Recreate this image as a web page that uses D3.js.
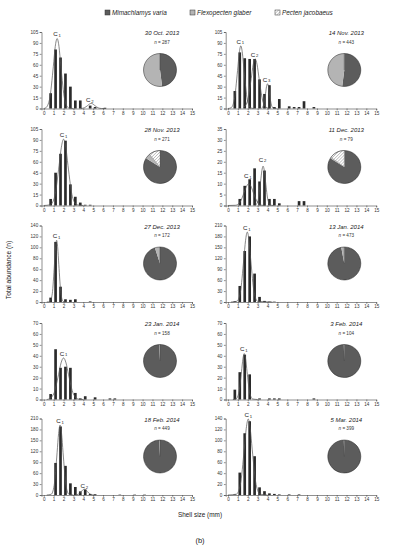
<!DOCTYPE html>
<html>
<head>
<meta charset="utf-8">
<script src="https://cdn.jsdelivr.net/npm/d3@7"></script>
<style>
  body { margin: 0; background: #fff; }
  svg { font-family: "Liberation Sans", Arial, sans-serif; }
</style>
</head>
<body>
<div id="chart"></div>
<script>
// size classes (lower edge of each 0.5 mm bin)
var sizeBins = [0, 0.5, 1, 1.5, 2, 2.5, 3, 3.5, 4, 4.5, 5, 5.5, 6, 6.5, 7, 7.5, 8, 8.5, 9, 9.5, 10];

var sampleDates = ["30 Oct. 2013", "14 Nov. 2013", "28 Nov. 2013", "11 Dec. 2013", "27 Dec. 2013",
                   "13 Jan. 2014", "23 Jan. 2014", "3 Feb. 2014", "18 Feb. 2014", "5 Mar. 2014"];
var sampleN = [287, 443, 271, 79, 172, 473, 158, 104, 449, 399];
var yMax = [105, 105, 105, 35, 140, 210, 70, 70, 210, 140];
var yStep = [15, 15, 15, 5, 20, 30, 10, 10, 30, 20];

// Mimachlamys varia abundance per size bin
var abundance = [
  [0, 21, 81, 70, 48, 30, 11, 11, 0, 4, 2, 0, 1, 0, 0, 0, 0, 0, 0, 0, 0],
  [0, 24, 77, 69, 68, 68, 40, 20, 32, 2, 13, 0, 3, 2, 2, 10, 0, 2, 0, 0, 0],
  [0, 9, 45, 71, 89, 29, 12, 4, 1, 1, 0, 0, 0, 0, 0, 0, 0, 0, 0, 0, 0],
  [0, 0, 3, 9, 12, 17, 11, 16, 3, 3, 1, 0, 0, 0, 2, 2, 0, 0, 0, 0, 0],
  [0, 8, 110, 28, 5, 4, 5, 0, 0, 1, 0, 0, 0, 0, 0, 0, 0, 0, 0, 0, 0],
  [0, 2, 44, 140, 180, 78, 14, 3, 1, 1, 0, 0, 0, 0, 0, 0, 0, 0, 0, 0, 0],
  [0, 5, 46, 29, 30, 29, 6, 1, 3, 0, 2, 0, 0, 1, 1, 0, 0, 0, 0, 0, 0],
  [0, 9, 25, 41, 23, 0, 1, 0, 1, 1, 1, 0, 0, 0, 0, 0, 0, 1, 0, 0, 0],
  [0, 0, 88, 188, 80, 32, 22, 10, 15, 3, 2, 0, 0, 0, 0, 1, 0, 0, 1, 0, 1],
  [0, 1, 41, 113, 135, 71, 14, 7, 3, 2, 1, 0, 1, 0, 1, 0, 0, 0, 0, 0, 0]
];

// cohort curves, points [size, n]
var cohortCurves = [
  [ [[0,0],[0.21,1],[0.59,13],[0.97,58],[1.16,85],[1.35,96],[1.54,85],[1.73,58],[2.11,13],[2.49,1],[3,0]],
    [[3.75,0],[4.1,1],[4.45,4.2],[4.63,6.2],[4.8,7],[4.97,6.2],[5.15,4.2],[5.5,1],[5.85,0],[6.3,0]] ],
  [ [[0,0],[0.31,1],[0.64,12],[0.97,52],[1.14,76],[1.3,86],[1.46,76],[1.63,52],[1.96,12],[2.29,1],[2.6,0]],
    [[1.55,1],[1.95,9],[2.35,41],[2.55,60],[2.75,68],[2.95,60],[3.15,41],[3.55,9],[3.95,1],[4.2,0]],
    [[3.4,0.4],[3.6,4.6],[3.8,20.6],[3.9,30],[4,34],[4.1,30],[4.2,20.6],[4.4,4.6],[4.6,0.4],[4.9,0]] ],
  [ [[0,0],[0.65,1],[1.1,12],[1.55,55],[1.78,80],[2,91],[2.23,80],[2.45,55],[2.9,12],[3.35,1],[4,0]] ],
  [ [[0,0],[0.75,0.1],[1.2,1.4],[1.65,6.1],[1.88,8.8],[2.1,10],[2.33,8.8],[2.55,6.1],[3,1.4],[3.45,0.1],[3.8,0]],
    [[2.8,0.2],[3.05,2.4],[3.3,10.9],[3.43,15.9],[3.55,18],[3.68,15.9],[3.8,10.9],[4.05,2.4],[4.3,0.2],[4.6,0]] ],
  [ [[0.3,0],[0.64,1],[0.86,15],[1.08,69],[1.19,99],[1.3,113],[1.41,99],[1.52,69],[1.74,15],[1.96,1],[2.3,0]] ],
  [ [[0.3,0],[0.9,2],[1.25,26],[1.6,117],[1.78,169],[1.95,192],[2.13,169],[2.3,117],[2.65,26],[3,2],[4.5,0]] ],
  [ [[0.3,0],[0.5,0.4],[1,5],[1.5,23],[1.75,33.5],[2,38],[2.25,33.5],[2.5,23],[3,5],[3.5,0.4],[4,0]] ],
  [ [[0.5,0],[0.81,0.5],[1.09,5.7],[1.37,25.5],[1.51,37],[1.65,42],[1.79,37],[1.93,25.5],[2.21,5.7],[2.49,0.5],[3,0]] ],
  [ [[0.3,0],[0.75,2],[1.05,26],[1.35,117],[1.5,169],[1.65,192],[1.8,169],[1.95,117],[2.25,26],[2.55,2],[3,0]],
    [[3.2,0.2],[3.5,2.2],[3.8,9.7],[3.95,14],[4.1,16],[4.25,14],[4.4,9.7],[4.7,2.2],[5,0.2],[5.3,0]] ],
  [ [[0,0],[0.85,1.5],[1.25,19],[1.65,84],[1.85,122],[2.05,139],[2.25,122],[2.45,84],[2.85,19],[3.25,1.5],[4,0]] ]
];

// cohort labels [size, n]
var cohortLabels = [
  [[1.35, 99], [4.65, 9]],
  [[1.25, 89], [2.7, 71], [3.9, 37]],
  [[2.0, 94]],
  [[2.0, 12.5], [3.5, 20]],
  [[1.3, 117]],
  [[1.9, 197]],
  [[2.0, 40]],
  [[1.6, 44]],
  [[1.65, 197], [4.1, 19]],
  [[2.05, 142]]
];

// species composition (%) : M. varia, F. glaber, P. jacobaeus
var pctVaria = [48, 52, 84, 84, 95, 97, 99, 99.5, 99, 99.5];
var pctGlaber = [52, 48, 5, 1, 5, 3, 1, 0.5, 1, 0.5];
var pctJacobaeus = [0, 0, 11, 15, 0, 0, 0, 0, 0, 0];

var speciesNames = ["Mimachlamys varia", "Flexopecten glaber", "Pecten jacobaeus"];
var speciesFill = ["#5c5c5c", "#b4b4b4", "url(#hatch)"];

var width = 396, height = 550;
var colX = [41.5, 225.7];
var colW = 150.5;
var rowTop = [32, 129, 225.5, 323, 418.5];
var panelH = 76.5;

var svg = d3.select("#chart").append("svg")
  .attr("width", width)
  .attr("height", height);

var pat = svg.append("defs").append("pattern")
  .attr("id", "hatch")
  .attr("patternUnits", "userSpaceOnUse")
  .attr("width", 2.2).attr("height", 2.2)
  .attr("patternTransform", "rotate(45)");
pat.append("rect").attr("width", 2.2).attr("height", 2.2).attr("fill", "#fff");
pat.append("line").attr("x1", 0).attr("y1", 0).attr("x2", 0).attr("y2", 2.2)
  .attr("stroke", "#555").attr("stroke-width", 0.6);

// legend
var legendX = [105, 190, 275];
var legend = svg.append("g").selectAll("g")
  .data(speciesNames)
  .enter().append("g")
  .attr("transform", function (d, i) { return "translate(" + legendX[i] + ",10)"; });
legend.append("rect")
  .attr("width", 5).attr("height", 5)
  .attr("fill", function (d, i) { return speciesFill[i]; })
  .attr("stroke", "#333").attr("stroke-width", 0.5);
legend.append("text")
  .attr("x", 7).attr("y", 5)
  .style("font-size", "6.4px")
  .style("font-style", "italic")
  .attr("fill", "#222")
  .text(function (d) { return d; });

var line = d3.line().curve(d3.curveMonotoneX);
var pie = d3.pie().sort(null);
var arc = d3.arc().innerRadius(0).outerRadius(16.5);

sampleDates.forEach(function (date, p) {
  var col = p % 2, row = Math.floor(p / 2);
  var x0 = colX[col], y0 = rowTop[row];
  var g = svg.append("g").attr("transform", "translate(" + x0 + "," + y0 + ")");

  var x = d3.scaleLinear().domain([-0.23, 15]).range([0, colW]);
  var y = d3.scaleLinear().domain([0, yMax[p]]).range([panelH, 0]);

  // bars
  g.selectAll(".bar")
    .data(abundance[p])
    .enter().append("rect")
    .attr("x", function (d, i) { return x(sizeBins[i] + 0.06); })
    .attr("width", x(0.3) - x(0.03))
    .attr("y", function (d) { return y(d); })
    .attr("height", function (d) { return panelH - y(d); })
    .attr("fill", "#2a2a2a");

  // cohort curves
  cohortCurves[p].forEach(function (pts) {
    g.append("path")
      .attr("d", line.x(function (d) { return x(d[0]); }).y(function (d) { return y(d[1]); })(pts))
      .attr("fill", "none")
      .attr("stroke", "#555")
      .attr("stroke-width", 0.7);
  });

  // cohort labels
  cohortLabels[p].forEach(function (c, k) {
    var t = g.append("text")
      .attr("x", x(c[0]))
      .attr("y", y(c[1]))
      .attr("text-anchor", "middle")
      .style("font-size", "6.2px")
      .attr("fill", "#222");
    t.append("tspan").text("C");
    t.append("tspan").attr("dx", 0.8).attr("dy", 0.6).style("font-size", "4.2px").text(k + 1);
  });

  // axes
  var yAxis = d3.axisLeft(y)
    .tickValues(d3.range(0, yMax[p] + 0.1, yStep[p]))
    .tickSize(1.8).tickPadding(1.5);
  var gy = g.append("g").call(yAxis);
  var xAxis = d3.axisBottom(x)
    .tickValues(d3.range(0, 16, 1))
    .tickSize(1.8).tickPadding(1.2);
  var gx = g.append("g").attr("transform", "translate(0," + panelH + ")").call(xAxis);
  [gy, gx].forEach(function (a) {
    a.selectAll("path, line").attr("stroke", "#444").attr("stroke-width", 0.6);
    a.selectAll("text").style("font-size", "4.6px").attr("fill", "#333");
  });

  // title + n
  var pcx = (col == 0 ? 118.5 : 118.6);
  g.append("text")
    .attr("x", pcx + 2).attr("y", 3)
    .attr("text-anchor", "middle")
    .style("font-size", "6px")
    .style("font-style", "italic")
    .attr("fill", "#222")
    .text(date);
  var nt = g.append("text")
    .attr("x", pcx + 2).attr("y", 11.5)
    .attr("text-anchor", "middle")
    .style("font-size", "4.6px")
    .attr("fill", "#333");
  nt.append("tspan").style("font-style", "italic").text("n");
  nt.append("tspan").text(" = " + sampleN[p]);

  // composition pie
  var pg = g.append("g").attr("transform", "translate(" + pcx + ",38)");
  pg.selectAll("path")
    .data(pie([pctVaria[p], pctGlaber[p], pctJacobaeus[p]]))
    .enter().append("path")
    .attr("d", arc)
    .attr("fill", function (d, i) { return speciesFill[i]; })
    .attr("stroke", function (d, i) { return i == 2 ? "#444" : "none"; })
    .attr("stroke-width", 0.3);
  pg.append("circle")
    .attr("r", 16.5)
    .attr("fill", "none")
    .attr("stroke", "#222")
    .attr("stroke-width", 0.5);
});

svg.append("text")
  .attr("transform", "translate(11,270) rotate(-90)")
  .attr("text-anchor", "middle")
  .style("font-size", "6.6px")
  .attr("fill", "#222")
  .text("Total abundance (n)");

svg.append("text")
  .attr("x", 200).attr("y", 517)
  .attr("text-anchor", "middle")
  .style("font-size", "6.4px")
  .attr("fill", "#222")
  .text("Shell size (mm)");

svg.append("text")
  .attr("x", 200).attr("y", 543)
  .attr("text-anchor", "middle")
  .style("font-size", "7.5px")
  .attr("fill", "#222")
  .text("(b)");
</script>
</body>
</html>
